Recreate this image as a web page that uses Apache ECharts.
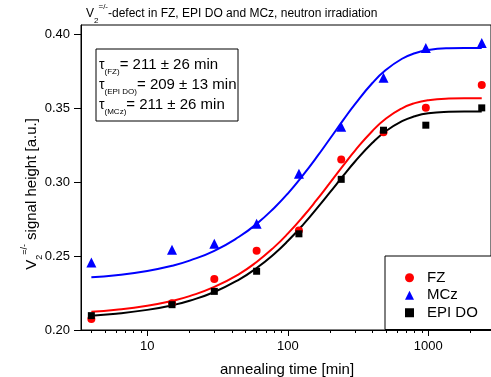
<!DOCTYPE html>
<html>
<head>
<meta charset="utf-8">
<script src="https://cdn.jsdelivr.net/npm/echarts@6/dist/echarts.min.js"></script>
<style>
  html, body { margin: 0; padding: 0; background: #fff; }
  #chart { width: 491px; height: 377px; }
</style>
</head>
<body>
<div id="chart"></div>
<script>
const FONT = '"Liberation Sans", Arial, sans-serif';

// measured points (annealing time in min)
const times = [4, 15, 30, 60, 120, 240, 480, 960, 2400];
const fz = [0.2075, 0.218, 0.2345, 0.2535, 0.2673, 0.3152, 0.3336, 0.3501, 0.3655];
const mcz = [0.2456, 0.2542, 0.2582, 0.2718, 0.3055, 0.3373, 0.3704, 0.3906, 0.3939];
const epiDo = [0.2097, 0.2171, 0.2261, 0.2397, 0.265, 0.3018, 0.335, 0.3384, 0.3501];

// fit curves
const fitTimes = [4, 6, 10, 15, 20, 30, 45, 60, 80, 100, 130, 160, 200, 250, 300, 400, 500, 650, 800, 1000, 1400, 1800, 2400];
const fzFit = [0.2124, 0.2137, 0.2164, 0.2197, 0.2229, 0.2291, 0.2378, 0.246, 0.256, 0.2651, 0.2772, 0.2877, 0.2996, 0.3116, 0.3211, 0.3345, 0.3429, 0.3498, 0.3533, 0.3553, 0.3564, 0.3566, 0.3566];
const mczFit = [0.2356, 0.237, 0.2399, 0.2434, 0.2469, 0.2535, 0.263, 0.2717, 0.2825, 0.2922, 0.3053, 0.3166, 0.3294, 0.3423, 0.3525, 0.3669, 0.3758, 0.3833, 0.387, 0.3892, 0.3904, 0.3906, 0.3906];
const epiFit = [0.2097, 0.211, 0.2136, 0.2167, 0.2198, 0.2257, 0.2341, 0.2419, 0.2514, 0.2601, 0.2717, 0.2818, 0.2931, 0.3046, 0.3137, 0.3265, 0.3345, 0.3411, 0.3444, 0.3464, 0.3474, 0.3476, 0.3476];

// axes
const yTicks = [0.20, 0.25, 0.30, 0.35, 0.40];
const xTicks = [10, 100, 1000];
const xMinorTicks = [4, 5, 6, 7, 8, 9, 20, 30, 40, 50, 60, 70, 80, 90, 200, 300, 400, 500, 600, 700, 800, 900, 2000];
const xMin = 3.376, xMax = 2793;
const yMin = 0.20, yMax = 0.4061;

const lg = Math.log10;
const pairs = (xs, ys) => xs.map((x, i) => [lg(x), ys[i]]);

const chart = echarts.init(document.getElementById('chart'));

const txt = { fontFamily: FONT, color: '#000' };

chart.setOption({
  animation: false,
  grid: { left: 81, top: 25, right: 0, bottom: 47, show: true, borderColor: '#000', borderWidth: 1 },
  xAxis: [
    {
      type: 'value', min: lg(xMin), max: lg(xMax), position: 'bottom',
      axisLine: { lineStyle: { color: '#000', width: 1 } },
      axisTick: { customValues: xTicks.map(lg), length: 6, lineStyle: { color: '#000' } },
      axisLabel: { customValues: xTicks.map(lg), formatter: v => String(Math.round(Math.pow(10, v))),
        fontSize: 13, margin: 10, ...txt },
      splitLine: { show: false }
    },
    {
      type: 'value', min: lg(xMin), max: lg(xMax), position: 'bottom',
      axisLine: { show: false },
      axisTick: { customValues: xMinorTicks.map(lg), length: 3, lineStyle: { color: '#000' } },
      axisLabel: { show: false },
      splitLine: { show: false }
    }
  ],
  yAxis: {
    type: 'value', min: yMin, max: yMax,
    axisLine: { show: true, lineStyle: { color: '#000', width: 1 } },
    axisTick: { show: true, customValues: yTicks, length: 7, lineStyle: { color: '#000' } },
    axisLabel: { customValues: yTicks, formatter: v => v.toFixed(2), fontSize: 13, margin: 11, ...txt },
    splitLine: { show: false }
  },
  legend: {
    data: ['FZ', 'MCz', 'EPI DO'],
    orient: 'vertical', left: 385, top: 256,
    padding: [13, 40, 8, 20],
    itemWidth: 9, itemHeight: 9, itemGap: 0,
    selectedMode: false,
    borderColor: '#000', borderWidth: 1, backgroundColor: '#fff',
    textStyle: { fontSize: 15, lineHeight: 17.5, padding: [0, 0, 0, 8], ...txt }
  },
  series: [
    { name: 'FZ fit', type: 'line', data: pairs(fitTimes, fzFit), smooth: true, showSymbol: false, silent: true,
      lineStyle: { color: '#ff0000', width: 2 }, z: 2 },
    { name: 'MCz fit', type: 'line', data: pairs(fitTimes, mczFit), smooth: true, showSymbol: false, silent: true,
      lineStyle: { color: '#0000ff', width: 2 }, z: 2 },
    { name: 'EPI DO fit', type: 'line', data: pairs(fitTimes, epiFit), smooth: true, showSymbol: false, silent: true,
      lineStyle: { color: '#000000', width: 2 }, z: 2 },
    { name: 'FZ', type: 'scatter', data: pairs(times, fz), symbol: 'circle', symbolSize: 8,
      itemStyle: { color: '#ff0000', opacity: 1 }, z: 3 },
    { name: 'MCz', type: 'scatter', data: pairs(times, mcz), symbol: 'triangle', symbolSize: 10,
      itemStyle: { color: '#0000ff', opacity: 1 }, z: 3 },
    { name: 'EPI DO', type: 'scatter', data: pairs(times, epiDo), symbol: 'rect', symbolSize: 7,
      itemStyle: { color: '#000000', opacity: 1 }, z: 3 }
  ],
  graphic: [
    // title
    {
      type: 'text', left: 86, top: 3,
      style: {
        text: '{n|V}{sub|2}{sup|=/-}{n|-defect in FZ, EPI DO and MCz, neutron irradiation}',
        rich: {
          n: { fontSize: 12, lineHeight: 22, ...txt },
          sub: { fontSize: 8, lineHeight: 10, verticalAlign: 'bottom', ...txt },
          sup: { fontSize: 8, lineHeight: 10, verticalAlign: 'top', ...txt }
        }
      }
    },
    // y axis title
    {
      type: 'text', x: 32, y: 194, rotation: Math.PI / 2,
      style: {
        text: '{n|V}{sub|2}{sup|=/-}{n| signal height [a.u.]}',
        align: 'center', verticalAlign: 'middle',
        rich: {
          n: { fontSize: 15, lineHeight: 24, ...txt },
          sub: { fontSize: 9, lineHeight: 10, verticalAlign: 'bottom', ...txt },
          sup: { fontSize: 9, lineHeight: 10, verticalAlign: 'top', ...txt }
        }
      }
    },
    // x axis title
    {
      type: 'text', x: 287, y: 370,
      style: { text: 'annealing time [min]', align: 'center', verticalAlign: 'middle', fontSize: 15, ...txt }
    },
    // time constants box
    {
      type: 'rect', shape: { x: 96, y: 49, width: 142, height: 72 },
      style: { fill: '#fff', stroke: '#000', lineWidth: 1 }, z: 10
    },
    ...[['(FZ)', '= 211 ± 26 min', 65], ['(EPI DO)', '= 209 ± 13 min', 85], ['(MCz)', '= 211 ± 26 min', 105]].map(r => ({
      type: 'text', x: 99, y: r[2], z: 11,
      style: {
        text: '{t|τ}{s|' + r[0] + '}{n|' + r[1] + '}',
        verticalAlign: 'middle',
        rich: {
          t: { fontSize: 14, lineHeight: 22, ...txt },
          s: { fontSize: 8, lineHeight: 10, verticalAlign: 'bottom', ...txt },
          n: { fontSize: 15, lineHeight: 22, ...txt }
        }
      }
    }))
  ]
});
</script>
</body>
</html>
